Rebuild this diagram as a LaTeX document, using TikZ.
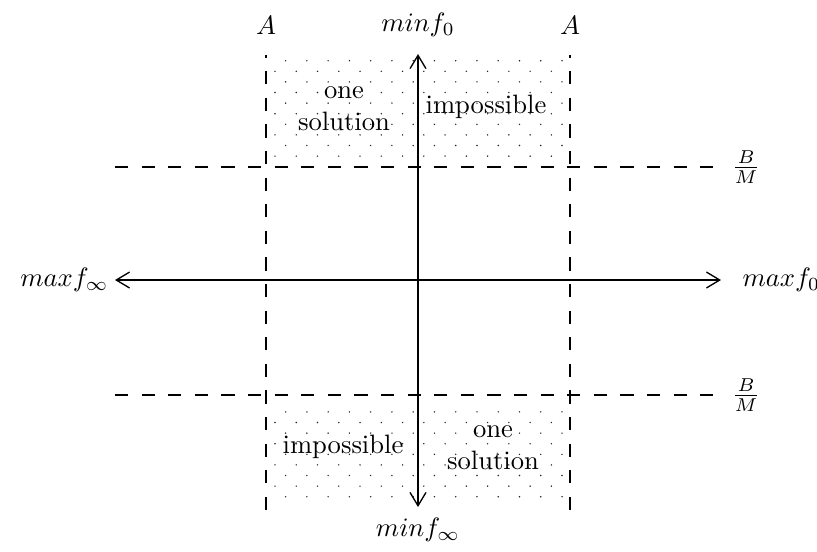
\documentclass[tikz,border=0pt]{standalone}
\usetikzlibrary{arrows.meta}
\begin{document}
\begin{tikzpicture}[x=0.376pt,y=-0.376pt,
  axis/.style={-{Straight Barb[length=5pt,width=6pt]},line width=0.5pt},
  guide/.style={line width=0.5pt,dash pattern=on 5pt off 5pt},
  lbl/.style={inner sep=0pt,align=center},
  dotfill/.style={fill=black!85}]
\useasboundingbox (0,0) rectangle (817,551);
% dotted regions
\foreach \m in {0,...,9}{
  \foreach \k in {0,...,27}{
    \pgfmathtruncatemacro{\pq}{mod(\k+\m,2)}
    \ifnum\pq=1
      \fill[dotfill] ({275+10.63*\k},{60.7+10.6*\m}) circle (0.3pt);
    \fi
  }
}
\foreach \m in {0,...,8}{
  \foreach \k in {0,...,27}{
    \pgfmathtruncatemacro{\pq}{mod(\k+\m,2)}
    \ifnum\pq=1
      \fill[dotfill] ({275+10.63*\k},{411.9+10.6*\m}) circle (0.3pt);
    \fi
  }
}
% coordinates
\coordinate (o) at (418,280);
\coordinate (vt) at (418,54);
\coordinate (vb) at (418,507);
\coordinate (hl) at (115,280);
\coordinate (hr) at (721,280);
\coordinate (a1b) at (266,510);
\coordinate (a1t) at (266,55);
\coordinate (a2b) at (570,510);
\coordinate (a2t) at (570,55);
\coordinate (b1l) at (115,167);
\coordinate (b1r) at (720,167);
\coordinate (b2l) at (115,395);
\coordinate (b2r) at (720,395);
% guides
\draw[guide] (a1b) -- (a1t);
\draw[guide] (a2b) -- (a2t);
\draw[guide] (b1l) -- (b1r);
\draw[guide] (b2l) -- (b2r);
% axes
\draw[axis] (o) -- (vt);
\draw[axis] (o) -- (vb);
\draw[axis] (o) -- (hl);
\draw[axis] (o) -- (hr);
% labels
\node[lbl] (A1) at (266,25) {$A$};
\node[lbl] (A2) at (570,25) {$A$};
\node[lbl] (mf0) at (418,25) {$minf_0$};
\node[lbl] (mfi) at (418,530) {$minf_\infty$};
\node[lbl,anchor=east] (Mfi) at (109,280) {$maxf_\infty$};
\node[lbl,anchor=west] (Mf0) at (742,280) {$maxf_0$};
\node[lbl] (BM1) at (746,167) {$\frac{B}{M}$};
\node[lbl] (BM2) at (746,395) {$\frac{B}{M}$};
\node[lbl] (t1) at (344,109) {one\\solution};
\node[lbl] (t2) at (486,107) {impossible};
\node[lbl] (t3) at (343,447) {impossible};
\node[lbl] (t4) at (493,448) {one\\solution};
\end{tikzpicture}
\end{document}
